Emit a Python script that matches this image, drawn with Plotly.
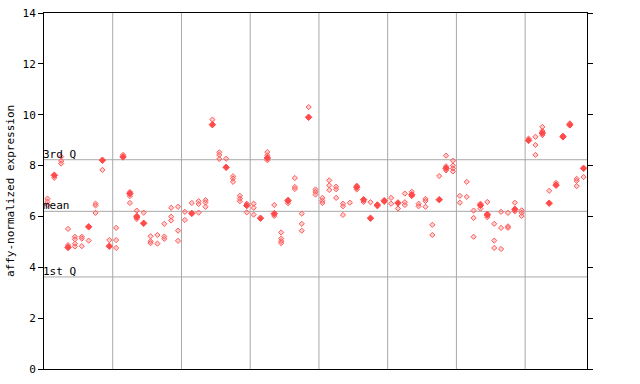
import plotly.graph_objects as go

# column index 1..79; values per column
hollow_values = [
    [6.70, 6.58, 6.45], [7.52], [8.35, 8.18, 8.08], [5.51, 4.87], [5.20, 5.10, 4.93, 4.82],
    [5.20, 5.13, 4.83], [5.05], [6.50, 6.43, 6.14], [7.83], [5.07],
    [5.55, 5.07, 4.76], [8.42], [6.96, 6.80, 6.53], [6.23, 6.03, 5.90], [6.15],
    [5.22, 5.02, 4.95], [5.27, 4.93], [5.71, 5.21, 5.12], [6.34, 5.99, 5.84], [6.38, 5.44, 5.04],
    [6.18, 5.86], [6.53], [6.60, 6.49, 6.15], [6.64, 6.55, 6.38], [9.81],
    [8.52, 8.42, 8.26], [8.27], [7.58, 7.49, 7.36], [6.81, 6.70, 6.60], [6.50, 6.16],
    [6.50, 6.34, 6.07], [], [8.53, 8.40, 8.21], [6.45, 6.02], [5.37, 5.13, 5.03, 4.95],
    [6.65, 6.52], [7.51, 7.16, 7.08], [6.11, 5.71, 5.44], [10.30], [7.06, 6.97, 6.86],
    [6.73, 6.62, 6.53], [7.42, 7.22, 7.04], [7.17, 7.07, 6.73], [6.50, 6.40, 6.06], [6.54],
    [7.21, 7.06], [6.57], [6.56], [6.40], [6.57],
    [6.73, 6.50], [6.31], [6.90, 6.56, 6.45], [6.97, 6.80], [6.50, 6.40],
    [6.69, 6.61, 6.38], [5.67, 5.27], [7.59], [8.39, 7.97, 7.81], [8.19, 8.00, 7.89, 7.77],
    [6.81, 6.54], [7.36, 6.77], [6.23, 5.94, 5.20], [6.50, 6.31], [6.57, 6.11, 5.97],
    [5.71, 5.05, 4.76], [6.18, 5.55, 4.72], [6.14, 5.61, 5.55], [6.54, 6.20], [6.24, 6.14, 6.02],
    [9.06], [9.13, 8.81, 8.42], [9.52, 9.36, 9.20], [7.01], [7.32],
    [9.17], [9.66], [7.48, 7.40, 7.19], [7.55],
]
filled_values = [
    [], [7.62], [], [4.78], [],
    [], [5.59], [], [8.21], [4.83],
    [], [8.34], [6.90], [5.98], [5.73],
    [], [], [], [], [],
    [], [6.12], [], [], [9.61],
    [], [7.93], [], [], [6.43],
    [], [5.93], [8.30], [6.11], [],
    [6.62], [], [], [9.90], [],
    [], [], [], [], [],
    [7.15], [6.66], [5.93], [6.45], [6.62],
    [], [6.53], [], [6.85], [],
    [], [], [6.66], [7.89], [],
    [], [], [], [6.44], [6.06],
    [], [], [], [6.28], [],
    [8.99], [], [9.28], [6.52], [7.23],
    [9.13], [9.60], [], [7.89],
]
group_bounds = [10.5, 20.5, 30.5, 40.5, 50.5, 60.5, 70.5]
q_values = {"3rd Q": 8.23, "mean": 6.20, "1st Q": 3.62}
y_ticks = [0, 2, 4, 6, 8, 10, 12, 14]
y_title = "affy-normalized expression"

hx, hy, fx, fy = [], [], [], []
for i, vals in enumerate(hollow_values, start=1):
    for v in vals:
        hx.append(i); hy.append(v)
for i, vals in enumerate(filled_values, start=1):
    for v in vals:
        fx.append(i); fy.append(v)

red = "#ff4a4a"
FONT = "DejaVu Sans Mono"
fig = go.Figure()
fig.add_trace(go.Scatter(x=hx, y=hy, mode="markers",
    marker=dict(symbol="diamond", size=4, color="rgba(255,120,120,0.35)",
                line=dict(color="#ff5a5a", width=1)), showlegend=False))
fig.add_trace(go.Scatter(x=fx, y=fy, mode="markers",
    marker=dict(symbol="diamond", size=5, color=red,
                line=dict(color=red, width=1)), showlegend=False))

shapes = []
for b in group_bounds:
    shapes.append(dict(type="line", xref="x", yref="paper", x0=b, x1=b, y0=0, y1=1,
                       line=dict(color="#a8a8a8", width=1), layer="below"))
annotations = []
for name, v in q_values.items():
    shapes.append(dict(type="line", xref="paper", yref="y", x0=0, x1=1, y0=v, y1=v,
                       line=dict(color="#a8a8a8", width=1), layer="below"))
    annotations.append(dict(text=name, xref="paper", yref="y", x=0, y=v, xanchor="left",
                            yanchor="bottom", showarrow=False, xshift=-3, yshift=-3,
                            font=dict(family=FONT, size=11, color="#000")))
annotations.append(dict(text=y_title, xref="paper", yref="paper", x=0, y=0.5,
                        xanchor="center", yanchor="middle", textangle=-90, showarrow=False,
                        xshift=-34, font=dict(family=FONT, size=11, color="#000")))

fig.update_layout(
    width=640, height=384,
    margin=dict(l=44, r=53, t=13, b=15),
    paper_bgcolor="white", plot_bgcolor="white",
    shapes=shapes, annotations=annotations,
    font=dict(family=FONT, size=11, color="#000"),
    xaxis=dict(range=[0.5, 79.5], showgrid=False, zeroline=False, showticklabels=False,
               ticks="", showline=True, linecolor="#000", linewidth=1, mirror=True,
               automargin=False),
    yaxis=dict(range=[0, 14], tickvals=y_ticks, showgrid=False, zeroline=False,
               ticks="outside", ticklen=5, tickcolor="#000", showline=True,
               linecolor="#000", linewidth=1, mirror="ticks", automargin=False,
               tickfont=dict(family=FONT, size=11)),
)
fig.write_html("out.html", config={"displayModeBar": False},
               post_script="document.body.style.margin='0';document.body.style.overflow='hidden';")
